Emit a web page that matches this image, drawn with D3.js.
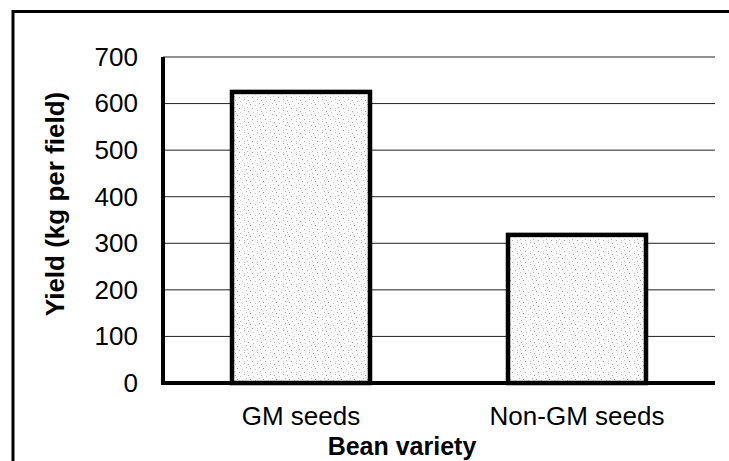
<!DOCTYPE html>
<html>
<head>
<meta charset="utf-8">
<script src="https://cdn.jsdelivr.net/npm/d3@7"></script>
<style>
  body { margin: 0; background: #fff; }
  text { font-family: "Liberation Sans", Arial, sans-serif; }
</style>
</head>
<body>
<div id="container"></div>
<script>
/* CONSTANTS AND GLOBALS */
const width = 729,
  height = 461;

// chart data
const varieties = ["GM seeds", "Non-GM seeds"];
const yields = [625, 318];
const yTicks = [0, 100, 200, 300, 400, 500, 600, 700];

const margin = { top: 57, right: 14, bottom: 78, left: 163 };

const svg = d3.select("#container")
  .append("svg")
  .attr("width", width)
  .attr("height", height);

// stipple texture for the bars
const defs = svg.append("defs");
const pat = defs.append("pattern")
  .attr("id", "stipple")
  .attr("patternUnits", "userSpaceOnUse")
  .attr("width", 13)
  .attr("height", 11);
pat.append("rect").attr("width", 13).attr("height", 11).attr("fill", "#fafafa");
[[1, 1, "#aaa"], [6, 2, "#c8c8c8"], [10, 0, "#bbb"], [3, 5, "#999"], [8, 6, "#ccc"],
 [12, 4, "#b5b5b5"], [0, 8, "#c0c0c0"], [5, 9, "#a8a8a8"], [10, 9, "#d0d0d0"], [2, 3, "#ddd"]]
  .forEach(([x, y, c]) => pat.append("rect").attr("x", x).attr("y", y).attr("width", 1).attr("height", 1).attr("fill", c));

// outer frame (runs off the right and bottom edges)
svg.append("rect")
  .attr("x", 13)
  .attr("y", 11.5)
  .attr("width", width + 20)
  .attr("height", height + 20)
  .attr("fill", "none")
  .attr("stroke", "#000")
  .attr("stroke-width", 3);

const xScale = d3.scaleBand()
  .domain(varieties)
  .range([margin.left, width - margin.right])
  .paddingInner(0.5)
  .paddingOuter(0.25);

const yScale = d3.scaleLinear()
  .domain([0, 700])
  .range([height - margin.bottom, margin.top]);

// gridlines
svg.append("g")
  .selectAll("line")
  .data(yTicks.slice(1))
  .join("line")
  .attr("x1", margin.left)
  .attr("x2", width - margin.right)
  .attr("y1", d => yScale(d))
  .attr("y2", d => yScale(d))
  .attr("stroke", "#222")
  .attr("stroke-width", 1);

// y axis tick labels
const yAxis = d3.axisLeft(yScale).tickValues(yTicks).tickSize(0).tickPadding(25);
const yAxisGroup = svg.append("g")
  .attr("transform", `translate(${margin.left}, 0)`)
  .call(yAxis);
yAxisGroup.select(".domain").remove();
yAxisGroup.selectAll("text")
  .attr("font-size", 26)
  .attr("font-family", "Liberation Sans, Arial, sans-serif")
  .attr("fill", "#000");

// bars
svg.selectAll("rect.bar")
  .data(varieties.map((v, i) => ({ variety: v, value: yields[i] })))
  .join("rect")
  .attr("class", "bar")
  .attr("x", d => xScale(d.variety))
  .attr("y", d => yScale(d.value))
  .attr("width", xScale.bandwidth())
  .attr("height", d => yScale(0) - yScale(d.value))
  .attr("fill", "url(#stipple)")
  .attr("stroke", "#000")
  .attr("stroke-width", 4.5);

// axis lines
svg.append("line")
  .attr("x1", margin.left).attr("x2", margin.left)
  .attr("y1", yScale(700)).attr("y2", yScale(0) + 2)
  .attr("stroke", "#000").attr("stroke-width", 4);
svg.append("line")
  .attr("x1", margin.left - 2).attr("x2", width - margin.right)
  .attr("y1", yScale(0)).attr("y2", yScale(0))
  .attr("stroke", "#000").attr("stroke-width", 4);

// x axis labels
const xAxis = d3.axisBottom(xScale).tickSize(0).tickPadding(23.5);
const xAxisGroup = svg.append("g")
  .attr("transform", `translate(0, ${yScale(0)})`)
  .call(xAxis);
xAxisGroup.select(".domain").remove();
xAxisGroup.selectAll("text")
  .attr("font-size", 26)
  .attr("font-family", "Liberation Sans, Arial, sans-serif")
  .attr("fill", "#000");

// axis titles
svg.append("text")
  .attr("x", 402)
  .attr("y", 455)
  .attr("text-anchor", "middle")
  .attr("font-size", 25)
  .attr("font-weight", "bold")
  .text("Bean variety");

svg.append("text")
  .attr("transform", "translate(64, 204) rotate(-90)")
  .attr("text-anchor", "middle")
  .attr("font-size", 26)
  .attr("font-weight", "bold")
  .text("Yield (kg per field)");
</script>
</body>
</html>
